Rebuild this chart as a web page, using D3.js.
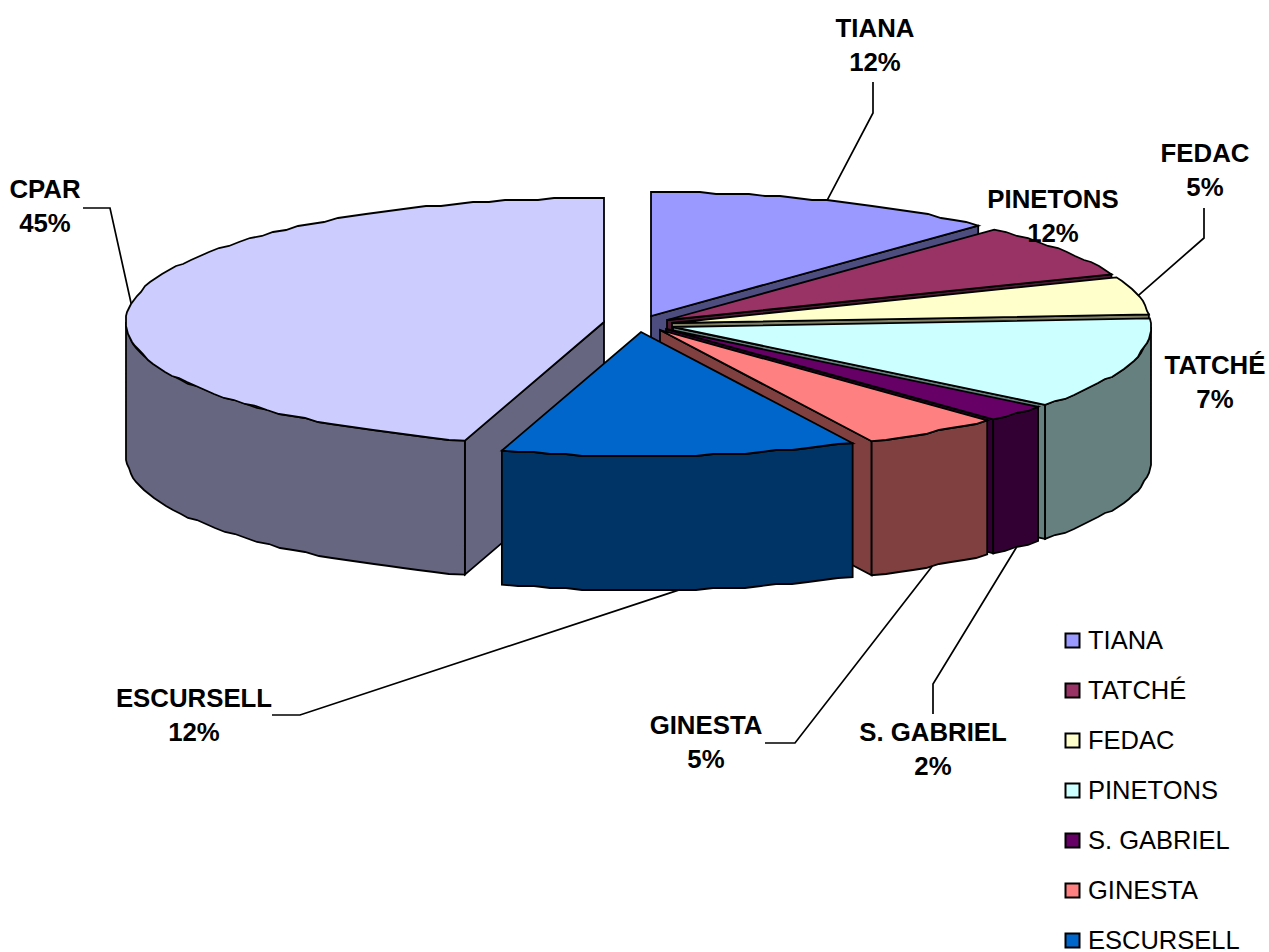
<!DOCTYPE html>
<html><head><meta charset="utf-8">
<script src="https://cdnjs.cloudflare.com/ajax/libs/d3/7.8.5/d3.min.js"></script>
<style>html,body{margin:0;padding:0;background:#fff;overflow:hidden}svg{display:block}text{font-family:"Liberation Sans",Arial,sans-serif;fill:#000}</style>
</head><body>
<svg id="c" width="1269" height="952"></svg>
<script>
// data, clockwise from 12 o'clock
const categories = ["TIANA","TATCHÉ","FEDAC","PINETONS","S. GABRIEL","GINESTA","ESCURSELL","CPAR"];
const shares     = [12.0,7.0,4.9,11.9,2.2,4.7,12.0,45.3];
// labels as printed beside the pie
const labelNames = ["TIANA","PINETONS","FEDAC","TATCHÉ","S. GABRIEL","GINESTA","ESCURSELL","CPAR"];
const labelPcts  = ["12%","12%","5%","7%","2%","5%","12%","45%"];
const legendNames = ["TIANA","TATCHÉ","FEDAC","PINETONS","S. GABRIEL","GINESTA","ESCURSELL"];

// styles
const topColors  = ["#9999FF","#993366","#FFFFCC","#CCFFFF","#660066","#FF8080","#0066CC","#CCCCFF"];
const sideColors = ["#4D4D80","#4D1A33","#808066","#668080","#330033","#804040","#003366","#666680"];

// layout: the exploded apex of every wedge
const apexX = [651,667,672,673,666,660,641,604];
const apexY = [316,320,323,327,329,330,332,322];
const labelX = [875,1053,1205,1215,933,706,194,45];
const labelY = [28,199,153,365,732,725,698,189];
const elbows = [[[873,113],[873,82]],null,[[1204,238],[1204,208]],null,[[933,684],[933,714]],[[795,743],[765,743]],[[300,715],[272,715]],[[110,208],[83,208]]];
const RX = 478, RY = 124, DEPTH = 134, STEP = 2, SNAP = 2;

const svg = d3.select("#c");
const deg = d3.scaleLinear().domain([0,2*Math.PI]).range([0,360]);
const arcs = d3.pie().sort(null).startAngle(0).endAngle(2*Math.PI)(shares)
  .map(d => ({i:d.index,a0:deg(d.startAngle),a1:deg(d.endAngle)}));
const rimX = d3.scaleLinear().domain([-1,1]).range([-RX,RX]);
const rimY = d3.scaleLinear().domain([-1,1]).range([-RY,RY]);
const rim = (i,a,dz=0) => {
  const t = a*Math.PI/180;
  return [apexX[i]+rimX(Math.sin(t)), apexY[i]+rimY(-Math.cos(t))+dz];
};
const wob = (i,a,dz=0) => {
  const p = rim(i,a,dz);
  return [Math.round(p[0]), apexY[i]+dz+Math.round((p[1]-apexY[i]-dz)/SNAP)*SNAP];
};
const line = d3.line();
const arcPts = (i,a0,a1,dz=0) => {
  const n = Math.max(1,Math.ceil((a1-a0)/STEP));
  const pts = d3.range(n+1).map(k => wob(i,a0+(a1-a0)*k/n,dz));
  pts[0]=rim(i,a0,dz); pts[n]=rim(i,a1,dz);
  return pts;
};
const paintOrder = [0,1,2,3,4,5,7,6];
const g = svg.append("g").attr("stroke","#000").attr("stroke-width",1.8).attr("stroke-linejoin","miter");
paintOrder.forEach(j => {
  const {i,a0,a1} = arcs[j];
  const apex=[apexX[i],apexY[i]], base=[apexX[i],apexY[i]+DEPTH];
  if (a1<180) g.append("path").attr("fill",sideColors[i])
      .attr("d",line([apex,rim(i,a1),rim(i,a1,DEPTH),base])+"Z");
  if (a0>180) g.append("path").attr("fill",sideColors[i])
      .attr("d",line([apex,rim(i,a0),rim(i,a0,DEPTH),base])+"Z");
  const w0=Math.max(a0,90), w1=Math.min(a1,270);
  if (w1>w0) g.append("path").attr("fill",sideColors[i])
      .attr("d",line([...arcPts(i,w0,w1),...arcPts(i,w0,w1,DEPTH).reverse()])+"Z");
  g.append("path").attr("fill",topColors[i])
      .attr("d",line([apex,...arcPts(i,a0,a1)])+"Z");
});

// leaders, from the rim at each wedge's middle angle
const leaders = svg.append("g").attr("fill","none").attr("stroke","#000").attr("stroke-width",1.7);
arcs.forEach(({i,a0,a1}) => {
  if (!elbows[i]) return;
  const mid=(a0+a1)/2, dz=(mid>90&&mid<270)?DEPTH:0;
  leaders.append("path").attr("d",line([rim(i,mid,dz),...elbows[i]]));
});

// data labels
categories.forEach((c,i) => {
  const t = svg.append("text").attr("text-anchor","middle")
    .attr("font-size",25.8).attr("font-weight","bold");
  t.append("tspan").attr("x",labelX[i]).attr("y",labelY[i]+9).text(labelNames[i]);
  t.append("tspan").attr("x",labelX[i]).attr("y",labelY[i]+43).text(labelPcts[i]);
});

// legend
const legendY = d3.scalePoint().domain(legendNames).range([641,941]);
const rows = svg.append("g").selectAll("g").data(legendNames).join("g")
  .attr("transform",d=>`translate(0,${legendY(d)})`);
rows.append("rect").attr("x",1065.5).attr("y",-7.5).attr("width",14).attr("height",14)
  .attr("fill",d=>topColors[categories.indexOf(d)]).attr("stroke","#000").attr("stroke-width",2);
rows.append("text").attr("x",1088).attr("y",8).attr("font-size",25.5).text(d=>d);
</script>
</body></html>
